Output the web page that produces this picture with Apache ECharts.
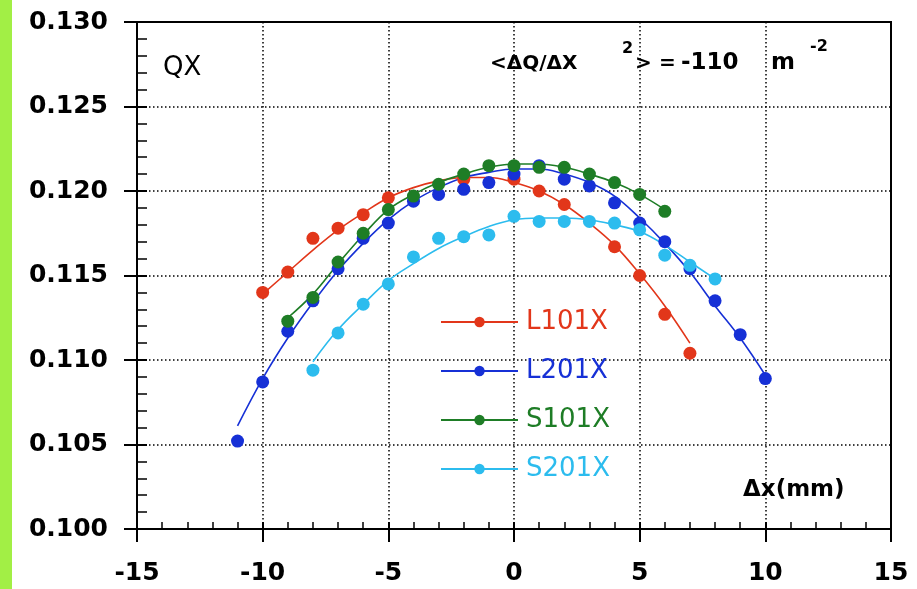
<!DOCTYPE html>
<html><head><meta charset="utf-8">
<script src="https://cdn.jsdelivr.net/npm/echarts@6/dist/echarts.min.js"></script>
<style>html,body{margin:0;padding:0;background:#fff}#c{width:917px;height:589px}</style>
</head><body><div id="c"></div>
<script>
// ---- data ----
const seriesNames = ['L101X', 'L201X', 'S101X', 'S201X'];
const xTicks = [-15, -10, -5, 0, 5, 10, 15];
const yTicks = [0.100, 0.105, 0.110, 0.115, 0.120, 0.125, 0.130];

const l101xX = [-10, -9, -8, -7, -6, -5, -2, 0, 1, 2, 4, 5, 6, 7];
const l101xY = [0.1140, 0.1152, 0.1172, 0.1178, 0.1186, 0.1196, 0.1207, 0.1207, 0.1200, 0.1192, 0.1167, 0.1150, 0.1127, 0.1104];
const l201xX = [-11, -10, -9, -8, -7, -6, -5, -4, -3, -2, -1, 0, 1, 2, 3, 4, 5, 6, 7, 8, 9, 10];
const l201xY = [0.1052, 0.1087, 0.1117, 0.1135, 0.1154, 0.1172, 0.1181, 0.1194, 0.1198, 0.1201, 0.1205, 0.1210, 0.1215, 0.1207, 0.1203, 0.1193, 0.1181, 0.1170, 0.1154, 0.1135, 0.1115, 0.1089];
const s101xX = [-9, -8, -7, -6, -5, -4, -3, -2, -1, 0, 1, 2, 3, 4, 5, 6];
const s101xY = [0.1123, 0.1137, 0.1158, 0.1175, 0.1189, 0.1197, 0.1204, 0.1210, 0.1215, 0.1215, 0.1214, 0.1214, 0.1210, 0.1205, 0.1198, 0.1188];
const s201xX = [-8, -7, -6, -5, -4, -3, -2, -1, 0, 1, 2, 3, 4, 5, 6, 7, 8];
const s201xY = [0.1094, 0.1116, 0.1133, 0.1145, 0.1161, 0.1172, 0.1173, 0.1174, 0.1185, 0.1182, 0.1182, 0.1182, 0.1181, 0.1177, 0.1162, 0.1156, 0.1148];

// fitted curves
const l101xFitX = [-10, -9, -8, -7, -6, -5, -4, -3, -2, -1, 0, 1, 2, 3, 4, 5, 6, 7];
const l101xFitY = [0.1139, 0.1152, 0.1165, 0.1177, 0.1187, 0.1196, 0.1202, 0.1206, 0.1208, 0.1208, 0.1205, 0.1200, 0.1192, 0.1181, 0.1168, 0.1151, 0.1132, 0.1110];
const l201xFitX = [-11, -10, -9, -8, -7, -6, -5, -4, -3, -2, -1, 0, 1, 2, 3, 4, 5, 6, 7, 8, 9, 10];
const l201xFitY = [0.1061, 0.1089, 0.1113, 0.1134, 0.1153, 0.1169, 0.1183, 0.1194, 0.1202, 0.1208, 0.1211, 0.1213, 0.1213, 0.1210, 0.1205, 0.1197, 0.1184, 0.1169, 0.1152, 0.1132, 0.1113, 0.1091];
const s101xFitX = [-9, -8, -7, -6, -5, -4, -3, -2, -1, 0, 1, 2, 3, 4, 5, 6];
const s101xFitY = [0.1125, 0.1139, 0.1157, 0.1174, 0.1189, 0.1198, 0.1205, 0.1210, 0.1214, 0.1216, 0.1216, 0.1214, 0.1210, 0.1205, 0.1198, 0.1189];
const s201xFitX = [-8, -7, -6, -5, -4, -3, -2, -1, 0, 1, 2, 3, 4, 5, 6, 7, 8];
const s201xFitY = [0.1099, 0.1118, 0.1133, 0.1147, 0.1157, 0.1166, 0.1173, 0.1179, 0.1183, 0.1184, 0.1184, 0.1183, 0.1180, 0.1176, 0.1168, 0.1158, 0.1148];

// ---- styling ----
const colors = ['#e2361a', '#1630d6', '#1e7d26', '#2cbcee'];
const pts = [[l101xX, l101xY], [l201xX, l201xY], [s101xX, s101xY], [s201xX, s201xY]];
const fits = [[l101xFitX, l101xFitY], [l201xFitX, l201xFitY], [s101xFitX, s101xFitY], [s201xFitX, s201xFitY]];
const zip = (a, b) => a.map((v, i) => [v, b[i]]);
const FONT = 'DejaVu Sans';

const series = [];
seriesNames.forEach((n, i) => {
  series.push({
    name: n, type: 'line', smooth: 0.4, showSymbol: false, symbol: 'circle',
    data: zip(fits[i][0], fits[i][1]), color: colors[i],
    lineStyle: { width: 1.6, color: colors[i] }, itemStyle: { color: colors[i] },
    z: 3, silent: true
  });
});
seriesNames.forEach((n, i) => {
  series.push({
    name: n, type: 'scatter', symbol: 'circle', symbolSize: 13,
    data: zip(pts[i][0], pts[i][1]), itemStyle: { color: colors[i], opacity: 1 }, z: 4
  });
});

function txt(left, top, text, size, weight) {
  return { type: 'text', left: left, top: top, z: 10,
    style: { text: text, fontFamily: FONT, fontSize: size, fontWeight: weight || 'normal', fill: '#000' } };
}

const chart = echarts.init(document.getElementById('c'), null, { renderer: 'canvas' });
const yMin = yTicks[0], yMax = yTicks[yTicks.length - 1], yInt = yTicks[1] - yTicks[0];
const xMin = xTicks[0], xMax = xTicks[xTicks.length - 1], xInt = xTicks[1] - xTicks[0];

chart.setOption({
  backgroundColor: '#ffffff',
  animation: false,
  grid: { left: 137, right: 26, top: 22, bottom: 60, show: true, borderColor: '#000', borderWidth: 2, backgroundColor: 'transparent' },
  xAxis: [
    { type: 'value', min: xMin, max: xMax, interval: xInt,
      axisLine: { show: true, onZero: false, lineStyle: { color: '#000', width: 2 } },
      axisTick: { show: true, inside: false, length: 13, lineStyle: { color: '#000', width: 2 } },
      axisLabel: { margin: 32, fontFamily: FONT, fontWeight: 'bold', fontSize: 25, color: '#000',
                   formatter: v => String(v) },
      splitLine: { show: true, lineStyle: { color: '#000', type: [1.5, 2.5], width: 1.5 } } },
    { type: 'value', min: xMin, max: xMax, interval: xInt, position: 'bottom',
      axisLine: { show: false, onZero: false },
      axisTick: { show: true, inside: true, length: 7, lineStyle: { color: '#000', width: 2 } },
      minorTick: { show: true, splitNumber: 5, length: 7, lineStyle: { color: '#000', width: 1.5 } },
      axisLabel: { show: false }, splitLine: { show: false } }
  ],
  yAxis: [
    { type: 'value', min: yMin, max: yMax, interval: yInt,
      axisLine: { show: true, onZero: false, lineStyle: { color: '#000', width: 2 } },
      axisTick: { show: true, inside: false, length: 13, lineStyle: { color: '#000', width: 2 } },
      axisLabel: { margin: 29, fontFamily: FONT, fontWeight: 'bold', fontSize: 25, color: '#000',
                   formatter: v => v.toFixed(3) },
      splitLine: { show: true, lineStyle: { color: '#000', type: [1.5, 2.5], width: 1.5 } } },
    { type: 'value', min: yMin, max: yMax, interval: yInt, position: 'left',
      axisLine: { show: false, onZero: false },
      axisTick: { show: true, inside: true, length: 10, lineStyle: { color: '#000', width: 2 } },
      minorTick: { show: true, splitNumber: 5, length: 10, lineStyle: { color: '#000', width: 1.5 } },
      axisLabel: { show: false }, splitLine: { show: false } }
  ],
  legend: {
    orient: 'vertical', left: 435, top: 304, itemWidth: 77, itemHeight: 13, itemGap: 23,
    data: seriesNames.map((n, i) => ({ name: n, textStyle: { color: colors[i] } })),
    textStyle: { fontFamily: FONT, fontSize: 26, padding: [0, 0, 0, 3] },
    selectedMode: false
  },
  graphic: [
    { type: 'rect', left: 0, top: 0, shape: { width: 12, height: 589 }, style: { fill: '#a2ef45' }, z: 10 },
    txt(163, 55, 'QX', 26),
    txt(490, 54, '<ΔQ/ΔX', 20, 'bold'),
    txt(622, 41, '2', 16, 'bold'),
    txt(635, 54, '>', 20, 'bold'),
    txt(659, 54, '=', 20, 'bold'),
    txt(681, 52, '-110', 23, 'bold'),
    txt(771, 52, 'm', 23, 'bold'),
    txt(810, 39, '-2', 16, 'bold'),
    txt(743, 479, 'Δx(mm)', 23, 'bold')
  ],
  series: series
});
</script></body></html>
